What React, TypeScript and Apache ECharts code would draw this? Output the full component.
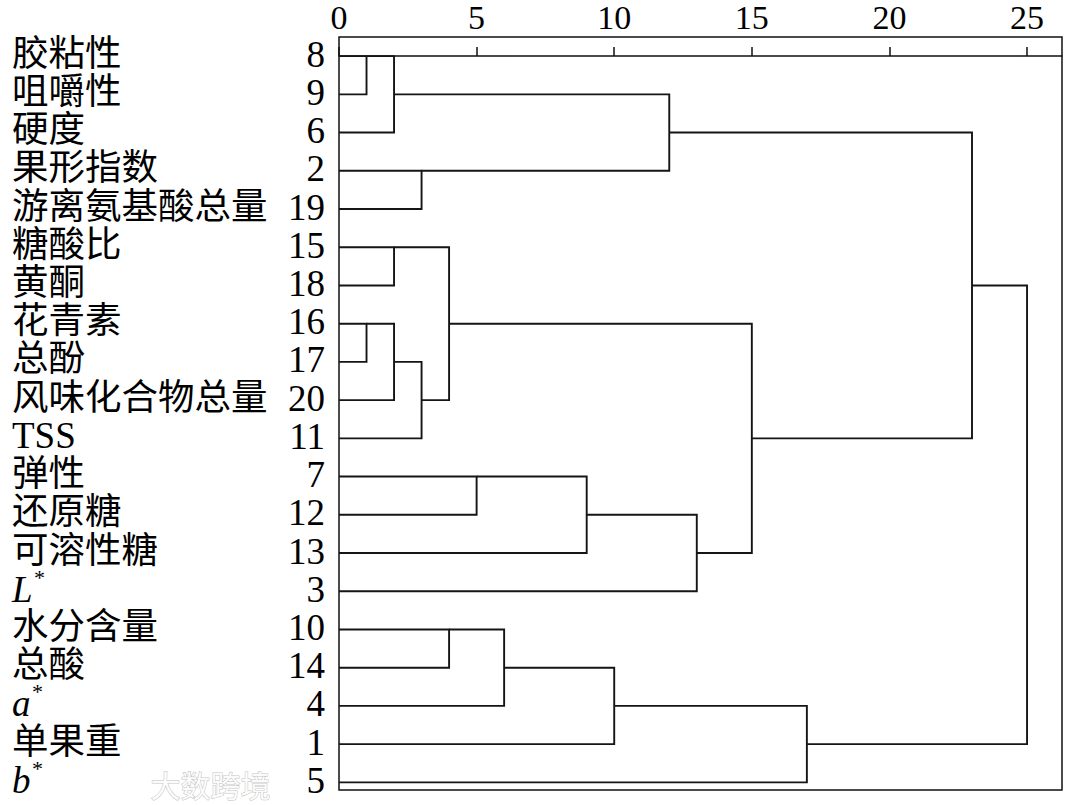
import React, { useEffect, useRef } from 'react';
import * as echarts from 'echarts';

// Leaf order (top to bottom) and their variable numbers
const rowIds = [8, 9, 6, 2, 19, 15, 18, 16, 17, 20, 11, 7, 12, 13, 3, 10, 14, 4, 1, 5];
const rowNames = [
  '胶粘性', '咀嚼性', '硬度', '果形指数', '游离氨基酸总量', '糖酸比', '黄酮', '花青素', '总酚',
  '风味化合物总量', 'TSS', '弹性', '还原糖', '可溶性糖', 'L*', '水分含量', '总酸', 'a*', '单果重', 'b*',
];
const xTicks = [0, 5, 10, 15, 20, 25];

// Agglomeration steps (rescaled distance)
const mergeNames = ['A', 'B', 'C', 'D', 'E', 'F', 'G', 'H', 'I', 'J', 'K', 'L', 'M', 'N', 'O', 'P', 'Q', 'R', 'S'];
const mergeLeft: (number | string)[] = [8, 'A', 2, 'B', 15, 16, 'F', 'G', 'E', 7, 'J', 'K', 'I', 'D', 10, 'O', 'P', 'Q', 'N'];
const mergeRight: (number | string)[] = [9, 6, 19, 'C', 18, 17, 20, 11, 'H', 12, 13, 3, 'L', 'M', 14, 4, 1, 5, 'R'];
const mergeHeights = [1, 2, 3, 12, 2, 1, 2, 3, 4, 5, 9, 13, 15, 23, 4, 6, 10, 17, 25];

const SERIF = '"Liberation Serif", "Times New Roman", "Noto Sans CJK SC", serif';

function buildLinks(): number[][][] {
  const pos: Record<string, { y: number; h: number }> = {};
  rowIds.forEach((id, i) => (pos['v' + id] = { y: i, h: 0 }));
  const key = (k: number | string) => (typeof k === 'number' ? 'v' + k : k);
  return mergeNames.map((name, k) => {
    const a = pos[key(mergeLeft[k])];
    const b = pos[key(mergeRight[k])];
    const h = mergeHeights[k];
    const top = a.y < b.y ? a : b;
    const bot = a.y < b.y ? b : a;
    pos[name] = { y: Math.floor((a.y + b.y) / 2), h };
    return [
      [top.h, top.y],
      [h, top.y],
      [h, bot.y],
      [bot.h, bot.y],
    ];
  });
}

export default function App() {
  const ref = useRef<HTMLDivElement>(null);
  useEffect(() => {
    if (!ref.current) return;
    const chart = echarts.init(ref.current, null, { renderer: 'svg' });
    const links = buildLinks();
    const option: any = {
      animation: false,
      backgroundColor: '#fff',
      grid: {
        left: 339,
        right: 18,
        top: 37,
        bottom: 15,
        show: true,
        borderColor: '#111',
        borderWidth: 1.5,
      },
      xAxis: {
        type: 'value',
        position: 'top',
        min: 0,
        max: 26.27,
        axisLine: { show: true, lineStyle: { color: '#111', width: 1.5 } },
        axisTick: { show: true, length: 9, lineStyle: { color: '#111', width: 1.5 }, customValues: xTicks },
        axisLabel: {
          customValues: xTicks,
          fontSize: 34,
          fontFamily: SERIF,
          color: '#000',
          margin: 3,
          lineHeight: 34,
        },
        splitLine: { show: false },
      },
      yAxis: {
        type: 'value',
        inverse: true,
        min: -0.5,
        max: 19.2,
        show: false,
      },
      series: [
        {
          type: 'custom',
          name: 'dendrogram',
          coordinateSystem: 'cartesian2d',
          encode: { x: 0, y: 1 },
          data: links.map((l, i) => [mergeHeights[i], (l[1][1] + l[2][1]) / 2]),
          renderItem: (params: any, api: any) => {
            const pts = links[params.dataIndex].map((p) => api.coord(p));
            return {
              type: 'polyline',
              shape: { points: pts },
              style: { stroke: '#151515', lineWidth: 1.9, fill: null },
            };
          },
        },
        {
          type: 'custom',
          name: 'labels',
          coordinateSystem: 'cartesian2d',
          encode: { x: 0, y: 1 },
          data: rowIds.map((id, i) => [0, i]),
          renderItem: (params: any, api: any) => {
            const i = params.dataIndex;
            const [x0, y] = api.coord([0, i]);
            const name = rowNames[i];
            const m = /^([a-zA-Z])\*$/.exec(name);
            const children: any[] = [];
            if (m) {
              const letterW = m[1] === 'L' ? 21 : 19;
              children.push({
                type: 'text',
                x: 12,
                y: y - 2,
                style: {
                  text: m[1],
                  fontSize: 37,
                  fontStyle: 'italic',
                  fontFamily: SERIF,
                  fill: '#000',
                  align: 'left',
                  verticalAlign: 'middle',
                },
              });
              children.push({
                type: 'text',
                x: 12 + letterW + 1,
                y: y - 14,
                style: {
                  text: '*',
                  fontSize: 22,
                  fontFamily: SERIF,
                  fill: '#000',
                  align: 'left',
                  verticalAlign: 'middle',
                },
              });
            } else {
              children.push({
                type: 'text',
                x: 12,
                y: y - 3,
                style: {
                  text: name,
                  fontSize: name === 'TSS' ? 37 : 36.5,
                  fontFamily: SERIF,
                  fill: '#000',
                  align: 'left',
                  verticalAlign: 'middle',
                },
              });
            }
            children.push({
              type: 'text',
              x: x0 - 14,
              y: y - 2,
              style: {
                text: String(rowIds[i]),
                fontSize: 37,
                fontFamily: SERIF,
                fill: '#000',
                align: 'right',
                verticalAlign: 'middle',
              },
            });
            return { type: 'group', children };
          },
        },
      ],
      graphic: [
        {
          type: 'text',
          left: 150,
          top: 768,
          silent: true,
          style: {
            text: '大数跨境',
            fontSize: 30,
            fontFamily: '"Noto Sans CJK SC", sans-serif',
            fill: 'rgba(255,255,255,0.9)',
            stroke: 'rgba(150,150,150,0.6)',
            lineWidth: 1,
          },
        },
      ],
    };
    chart.setOption(option);
    return () => chart.dispose();
  }, []);
  return (
    <div
      ref={ref}
      style={{ position: 'fixed', left: 0, top: 0, width: 1080, height: 805, background: '#fff' }}
    />
  );
}
